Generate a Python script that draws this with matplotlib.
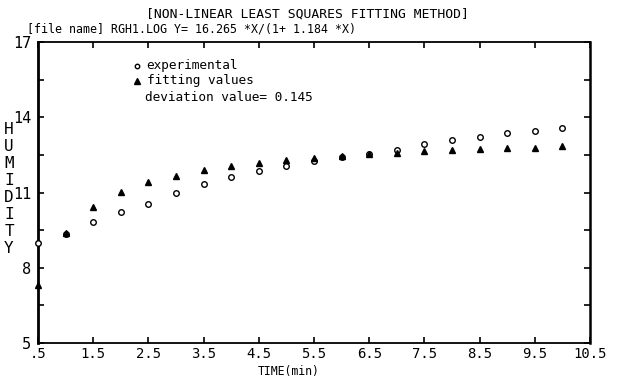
import matplotlib
matplotlib.use("Agg")
import matplotlib.pyplot as plt

# data
time_min = [0.5, 1.0, 1.5, 2.0, 2.5, 3.0, 3.5, 4.0, 4.5, 5.0,
            5.5, 6.0, 6.5, 7.0, 7.5, 8.0, 8.5, 9.0, 9.5, 10.0]
experimental = [8.97, 9.36, 9.81, 10.21, 10.54, 10.97, 11.33, 11.61, 11.87, 12.07,
                12.26, 12.40, 12.55, 12.69, 12.92, 13.09, 13.21, 13.36, 13.46, 13.56]
fitting = [7.31, 9.37, 10.42, 11.03, 11.43, 11.67, 11.90, 12.06, 12.19, 12.30,
           12.36, 12.45, 12.53, 12.59, 12.65, 12.69, 12.72, 12.76, 12.79, 12.87]
x_ticks = [0.5, 1.5, 2.5, 3.5, 4.5, 5.5, 6.5, 7.5, 8.5, 9.5, 10.5]
x_tick_labels = [".5", "1.5", "2.5", "3.5", "4.5", "5.5", "6.5", "7.5", "8.5", "9.5", "10.5"]
y_ticks = [5, 8, 11, 14, 17]
y_minor = [6.5, 9.5, 12.5, 15.5]

MONO = "DejaVu Sans Mono"

fig = plt.figure(figsize=(6.2, 3.9), dpi=100)
ax = fig.add_axes([38/620, 1-343/390, (590-38)/620, (343-42)/390])

ax.plot(time_min, experimental, linestyle="none", marker="o", markersize=4,
        markerfacecolor="white", markeredgecolor="black", markeredgewidth=1.0, clip_on=False, zorder=3)
ax.plot(time_min, fitting, linestyle="none", marker="^", markersize=5,
        color="black", clip_on=False, zorder=3)

ax.set_xlim(0.5, 10.5)
ax.set_ylim(5, 17)

ax.set_xticks(x_ticks)
ax.set_xticklabels(x_tick_labels, fontfamily=MONO, fontsize=10)
ax.set_yticks(y_ticks)
ax.set_yticklabels([str(v) for v in y_ticks], fontfamily=MONO, fontsize=11)
ax.set_yticks(y_minor, minor=True)

ax.tick_params(axis="both", which="both", direction="in", top=True, right=True,
               length=4, width=1.2, color="black")
ax.tick_params(axis="x", pad=3)
ax.tick_params(axis="y", pad=5)

for s in ax.spines.values():
    s.set_linewidth(1.3)
ax.spines["left"].set_linewidth(2.0)
ax.spines["right"].set_linewidth(1.8)

# legend-like annotations
ax.plot([2.29], [16.06], marker="o", markersize=3.2, markerfacecolor="white",
        markeredgecolor="black", linestyle="none", clip_on=False)
ax.plot([2.29], [15.46], marker="^", markersize=4.2, color="black", linestyle="none", clip_on=False)
ax.text(2.47, 16.08, "experimental", fontfamily=MONO, fontsize=9.2, va="center", ha="left")
ax.text(2.47, 15.48, "fitting values", fontfamily=MONO, fontsize=9.2, va="center", ha="left")
ax.text(2.44, 14.78, "deviation value= 0.145", fontfamily=MONO, fontsize=9.2, va="center", ha="left")

fig.text(307/620, 1-14/390, "[NON-LINEAR LEAST SQUARES FITTING METHOD]", fontfamily=MONO,
         fontsize=9.4, ha="center", va="center")
fig.text(27/620, 1-29/390, "[file name] RGH1.LOG Y= 16.265 *X/(1+ 1.184 *X)", fontfamily=MONO,
         fontsize=8.4, ha="left", va="center")
fig.text(289/620, 1-372/390, "TIME(min)", fontfamily=MONO, fontsize=8.3, ha="center", va="center")
fig.text(9/620, 1-189/390, "H\nU\nM\nI\nD\nI\nT\nY", fontfamily=MONO, fontsize=11.5,
         ha="center", va="center", linespacing=1.17)

fig.savefig("out.png", dpi=100, facecolor="white")
